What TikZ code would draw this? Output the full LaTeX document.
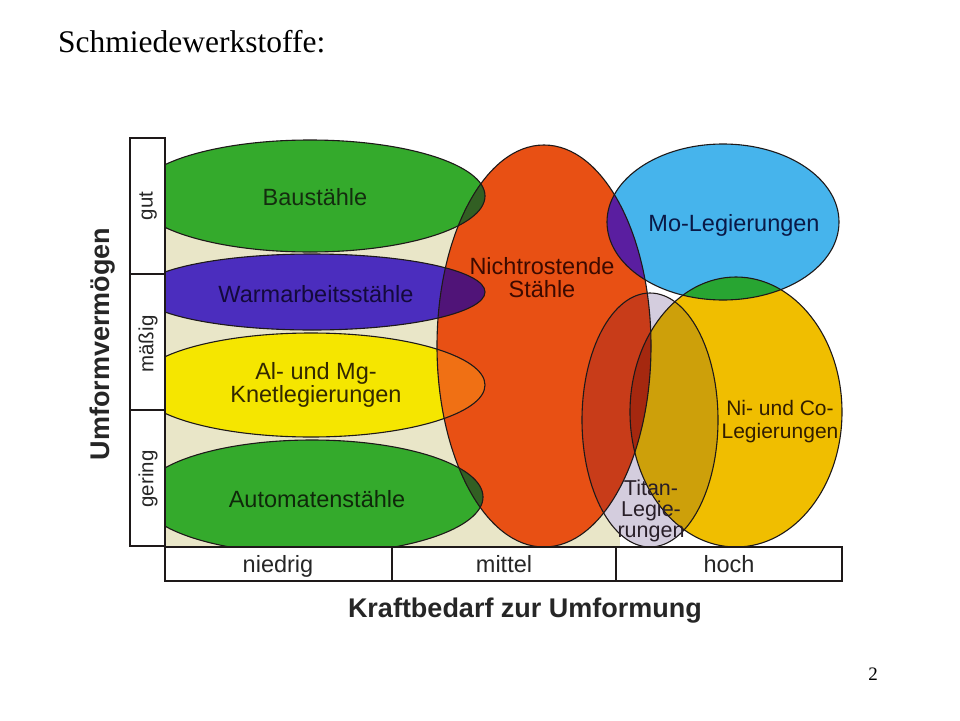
\documentclass[tikz,border=0pt]{standalone}
\usepackage{fontspec}
\setmainfont{Liberation Serif}
\newfontfamily\helv{Liberation Sans}

\definecolor{beige}{RGB}{233,230,200}
\definecolor{gruen}{RGB}{52,170,44}
\definecolor{violett}{RGB}{75,45,190}
\definecolor{gelb}{RGB}{245,230,0}
\definecolor{rot}{RGB}{232,80,20}
\definecolor{hellblau}{RGB}{70,180,236}
\definecolor{gold}{RGB}{240,190,0}
\definecolor{lavendel}{RGB}{212,205,222}
\definecolor{gruenrot}{RGB}{50,95,35}
\definecolor{violettrot}{RGB}{80,20,120}
\definecolor{gelbrot}{RGB}{240,112,20}
\definecolor{blaurot}{RGB}{90,30,160}
\definecolor{blaugold}{RGB}{40,165,50}
\definecolor{titanrot}{RGB}{200,60,25}
\definecolor{titangold}{RGB}{205,160,10}
\definecolor{titanrotgold}{RGB}{165,40,15}
\definecolor{linie}{RGB}{30,25,25}

\tikzset{
  lab/.style={font=\helv\fontsize{23.5}{23}\selectfont, align=center, inner sep=0pt},
  achse/.style={font=\helv\fontsize{20.5}{21}\selectfont, text=black!85, inner sep=0pt},
  stufe/.style={font=\helv\fontsize{23.5}{23}\selectfont, text=black!85, inner sep=0pt, anchor=base},
  titel/.style={font=\helv\bfseries\fontsize{27}{27}\selectfont, text=black!85, inner sep=0pt},
  kasten/.style={draw=linie, line width=2pt, fill=white},
  rand/.style={draw=linie, line width=1.1pt}
}

% die Ellipsen
\def\ellBau{(310,196) ellipse [x radius=175pt, y radius=56pt]}
\def\ellWarm{(312,292) ellipse [x radius=173pt, y radius=38pt]}
\def\ellAlmg{(311,385) ellipse [x radius=174pt, y radius=52pt]}
\def\ellAuto{(312,497) ellipse [x radius=171pt, y radius=57pt]}
\def\ellRot{(544,346) ellipse [x radius=107pt, y radius=201pt]}
\def\ellMo{(723,222) ellipse [x radius=116pt, y radius=78pt]}
\def\ellTi{(650,420) ellipse [x radius=68pt, y radius=127pt]}
\def\ellNi{(736,412) ellipse [x radius=106pt, y radius=135pt]}

\begin{document}
\begin{tikzpicture}[x=1pt, y=-1pt]
  \useasboundingbox (0,0) rectangle (960,720);

  \node[anchor=base west, inner sep=0pt, font=\fontsize{31.5}{31}\selectfont] (titel) at (58,52) {Schmiedewerkstoffe:};
  \node[anchor=base, inner sep=0pt, font=\fontsize{19}{19}\selectfont] (seite) at (873,680) {2};

  \fill[beige] (165,196) rectangle (620,547);

  \begin{scope}
    \clip (165,0) rectangle (960,547);
    \fill[gruen] \ellBau;
    \fill[violett] \ellWarm;
    \fill[gelb] \ellAlmg;
    \fill[gruen] \ellAuto;
    \fill[rot] \ellRot;
    \fill[hellblau] \ellMo;
    \fill[lavendel] \ellTi;
    \fill[gold] \ellNi;
    % Ueberschneidungen
    \begin{scope}
      \clip \ellMo;
      \fill[blaugold] \ellNi;
    \end{scope}
    \begin{scope}
      \clip \ellTi;
      \fill[titangold] \ellNi;
    \end{scope}
    \begin{scope}
      \clip \ellRot;
      \fill[gruenrot] \ellBau;
      \fill[violettrot] \ellWarm;
      \fill[gelbrot] \ellAlmg;
      \fill[gruenrot] \ellAuto;
      \fill[blaurot] \ellMo;
      \fill[titanrot] \ellTi;
      \begin{scope}
        \clip \ellTi;
        \fill[titanrotgold] \ellNi;
      \end{scope}
    \end{scope}
    \draw[rand] \ellBau;
    \draw[rand] \ellWarm;
    \draw[rand] \ellAlmg;
    \draw[rand] \ellAuto;
    \draw[rand] \ellRot;
    \draw[rand] \ellMo;
    \draw[rand] \ellTi;
    \draw[rand] \ellNi;
  \end{scope}

  % Achsen
  \draw[kasten] (130,138) rectangle (165,546);
  \draw[kasten] (130,274) -- (165,274);
  \draw[kasten] (130,410) -- (165,410);
  \draw[kasten] (165,547) rectangle (842,581);
  \draw[kasten] (392,547) -- (392,581);
  \draw[kasten] (616,547) -- (616,581);

  \node[achse, rotate=90] (gut) at (148,206) {gut};
  \node[achse, rotate=90] (maessig) at (148,344) {mäßig};
  \node[achse, rotate=90] (gering) at (148,479) {gering};
  \node[stufe] (niedrig) at (278,572) {niedrig};
  \node[stufe] (mittel) at (504,572) {mittel};
  \node[stufe] (hoch) at (729,572) {hoch};
  \node[titel, rotate=90] (umform) at (103,344) {Umformvermögen};
  \node[titel] (kraft) at (525,611) {Kraftbedarf zur Umformung};

  % Beschriftung
  \node[lab, text={rgb,255:red,20;green,45;blue,15}] (bau) at (315,197) {Baustähle};
  \node[lab, text={rgb,255:red,20;green,10;blue,60}] (warm) at (316,294) {Warmarbeitsstähle};
  \node[lab, text={rgb,255:red,50;green,40;blue,0}] (almg) at (316,385) {Al- und Mg-\\Knetlegierungen};
  \node[lab, text={rgb,255:red,15;green,40;blue,10}] (auto) at (317,499) {Automatenstähle};
  \node[lab, text={rgb,255:red,60;green,10;blue,0}] (nirost) at (542,278) {Nichtrostende\\Stähle};
  \node[lab, text={rgb,255:red,10;green,25;blue,70}] (mo) at (734,225) {Mo-Legierungen};
  \node[lab, font=\helv\fontsize{21}{23}\selectfont, text={rgb,255:red,50;green,30;blue,0}] (nico) at (780,422) {Ni- und Co-\\Legierungen};
  \node[lab, font=\helv\fontsize{21.5}{21}\selectfont, text={rgb,255:red,40;green,30;blue,40}] (titan) at (651,511) {Titan-\\Legie-\\rungen};
\end{tikzpicture}
\end{document}
